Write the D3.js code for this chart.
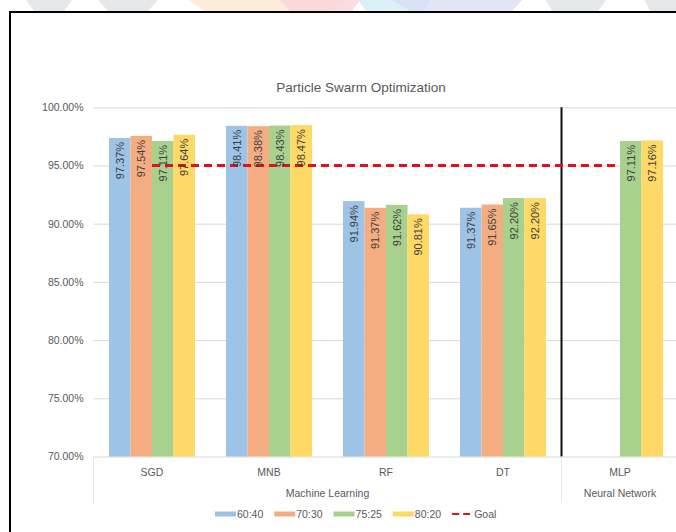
<!DOCTYPE html>
<html>
<head>
<meta charset="utf-8">
<script src="https://cdn.jsdelivr.net/npm/d3@7"></script>
<style>
  body { margin: 0; background: #ffffff; }
  svg { display: block; font-family: "Liberation Sans", Arial, sans-serif; }
</style>
</head>
<body>
<svg id="chart" width="676" height="532"></svg>
<script>
// Accuracy per classifier and train:test split
const categories = ["SGD", "MNB", "RF", "DT", "MLP"];
const groupNames = ["Machine Learning", "Neural Network"];
const groupMembers = [["SGD", "MNB", "RF", "DT"], ["MLP"]];
const series = ["60:40", "70:30", "75:25", "80:20"];
const values6040 = [97.37, 98.41, 91.94, 91.37, null];
const values7030 = [97.54, 98.38, 91.37, 91.65, null];
const values7525 = [97.11, 98.43, 91.62, 92.20, 97.11];
const values8020 = [97.64, 98.47, 90.81, 92.20, 97.16];
const goalValues = [95, 95, 95, 95, 95];
const yTicks = [70, 75, 80, 85, 90, 95, 100];
const titleText = "Particle Swarm Optimization";
const goalName = "Goal";

const seriesValues = [values6040, values7030, values7525, values8020];
const colors = ["#9dc3e6", "#f4ad80", "#a9d18e", "#ffd966"];

const W = 676, H = 532;
const svg = d3.select("#chart");

// faint decorative banner shapes above the frame
const banner = [
  { pts: [[26, 0], [72, 0], [64, 11], [34, 11]], c: "#dde2e5" },
  { pts: [[98, 0], [158, 0], [148, 11], [108, 11]], c: "#dde2e5" },
  { pts: [[188, 0], [350, 0], [330, 11], [205, 11]], c: "#fde7d2" },
  { pts: [[280, 0], [360, 0], [352, 11], [290, 11]], c: "#f8d4dc" },
  { pts: [[358, 0], [430, 0], [424, 11], [366, 11]], c: "#d3eef4" },
  { pts: [[392, 0], [522, 0], [512, 11], [410, 11]], c: "#dadff5" },
  { pts: [[546, 0], [606, 0], [598, 11], [552, 11]], c: "#dde2e5" },
  { pts: [[645, 0], [676, 0], [676, 11], [650, 11]], c: "#dde2e5" }
];
svg.append("g").selectAll("polygon").data(banner).join("polygon")
  .attr("points", d => d.pts.map(p => p.join(",")).join(" "))
  .attr("fill", d => d.c).attr("opacity", 0.8);

// chart frame
svg.append("rect")
  .attr("x", 10).attr("y", 12).attr("width", 720).attr("height", 560)
  .attr("fill", "#ffffff").attr("stroke", "#000000").attr("stroke-width", 2);

const plot = { left: 93.5, right: 678.5, top: 107.3, bottom: 456.5 };

const x0 = d3.scaleBand().domain(categories).range([plot.left, plot.right]).padding(0);
const x1 = d3.scaleBand().domain(series).range([0, x0.bandwidth()])
  .paddingInner(0).paddingOuter(0.72);
const y = d3.scaleLinear().domain([70, 100]).range([plot.bottom, plot.top]);

// title
svg.append("text")
  .attr("x", 361).attr("y", 87).attr("dy", "0.35em")
  .attr("text-anchor", "middle")
  .attr("font-size", 13.5).attr("fill", "#595959")
  .text(titleText);

// y gridlines and axis labels
const yAxis = d3.axisLeft(y).tickValues(yTicks)
  .tickSize(-(W - plot.left))
  .tickPadding(10)
  .tickFormat(d => d3.format(".2f")(d) + "%");
const gy = svg.append("g").attr("transform", `translate(${plot.left},0)`).call(yAxis);
gy.select(".domain").remove();
gy.selectAll(".tick line").attr("stroke", "#d9d9d9").attr("stroke-width", 1);
gy.selectAll(".tick text").attr("fill", "#595959").attr("font-size", 10.5)
  .attr("font-family", "Liberation Sans, Arial, sans-serif");

// bars
const rows = [];
categories.forEach((c, i) => {
  series.forEach((s, j) => {
    const v = seriesValues[j][i];
    if (v != null) rows.push({ cat: c, s, j, v });
  });
});

svg.append("g").selectAll("rect").data(rows).join("rect")
  .attr("x", d => x0(d.cat) + x1(d.s))
  .attr("y", d => y(d.v))
  .attr("width", x1.bandwidth())
  .attr("height", d => y(70) - y(d.v))
  .attr("fill", d => colors[d.j]);

// divider between the two model families
svg.append("line")
  .attr("x1", x0("MLP")).attr("x2", x0("MLP"))
  .attr("y1", plot.top).attr("y2", plot.bottom)
  .attr("stroke", "#111111").attr("stroke-width", 2);

// goal line
const goalLine = d3.line()
  .x((d, i) => x0(categories[i]) + x0.bandwidth() / 2)
  .y(d => y(d));
svg.append("path").datum(goalValues)
  .attr("d", goalLine)
  .attr("fill", "none").attr("stroke", "#e0101e")
  .attr("stroke-width", 2.8).attr("stroke-dasharray", "8,5");

// data labels, rotated, inside the bar end
svg.append("g").selectAll("text").data(rows).join("text")
  .attr("transform", d => `translate(${x0(d.cat) + x1(d.s) + x1.bandwidth() / 2},${y(d.v) + 4}) rotate(-90)`)
  .attr("text-anchor", "end").attr("dy", "0.35em")
  .attr("font-size", 11).attr("fill", "#404040")
  .text(d => d3.format(".2f")(d.v) + "%");

// category axis (two levels)
const gx = svg.append("g");
gx.selectAll("text.cat").data(categories).join("text")
  .attr("class", "cat")
  .attr("x", d => x0(d) + x0.bandwidth() / 2).attr("y", 472).attr("dy", "0.35em")
  .attr("text-anchor", "middle").attr("font-size", 10.5).attr("fill", "#595959")
  .text(d => d);

const groupData = groupNames.map((g, i) => {
  const m = groupMembers[i];
  const a = x0(m[0]);
  const b = x0(m[m.length - 1]) + x0.bandwidth();
  return { name: g, a, b };
});
gx.selectAll("text.grp").data(groupData).join("text")
  .attr("class", "grp")
  .attr("x", d => (d.a + d.b) / 2).attr("y", 493).attr("dy", "0.35em")
  .attr("text-anchor", "middle").attr("font-size", 10.5).attr("fill", "#595959")
  .text(d => d.name);
gx.selectAll("line.sep").data(groupData).join("line")
  .attr("class", "sep")
  .attr("x1", d => d.a).attr("x2", d => d.a)
  .attr("y1", plot.bottom).attr("y2", 503)
  .attr("stroke", "#e6e6e6").attr("stroke-width", 1);

// legend
const legend = svg.append("g");
let lx = 215;
const ly = 514;
const legendItems = series.map((s, i) => ({ name: s, color: colors[i], dashed: false }))
  .concat([{ name: goalName, color: "#e0101e", dashed: true }]);
legendItems.forEach(item => {
  legend.append("line")
    .attr("x1", lx).attr("x2", lx + 21).attr("y1", ly).attr("y2", ly)
    .attr("stroke", item.color)
    .attr("stroke-width", item.dashed ? 2.2 : 5)
    .attr("stroke-dasharray", item.dashed ? "7,4" : null);
  const t = legend.append("text")
    .attr("x", lx + 22).attr("y", ly).attr("dy", "0.35em")
    .attr("font-size", 10.5).attr("fill", "#595959")
    .text(item.name);
  lx += 22 + t.node().getComputedTextLength() + 11;
});
</script>
</body>
</html>
